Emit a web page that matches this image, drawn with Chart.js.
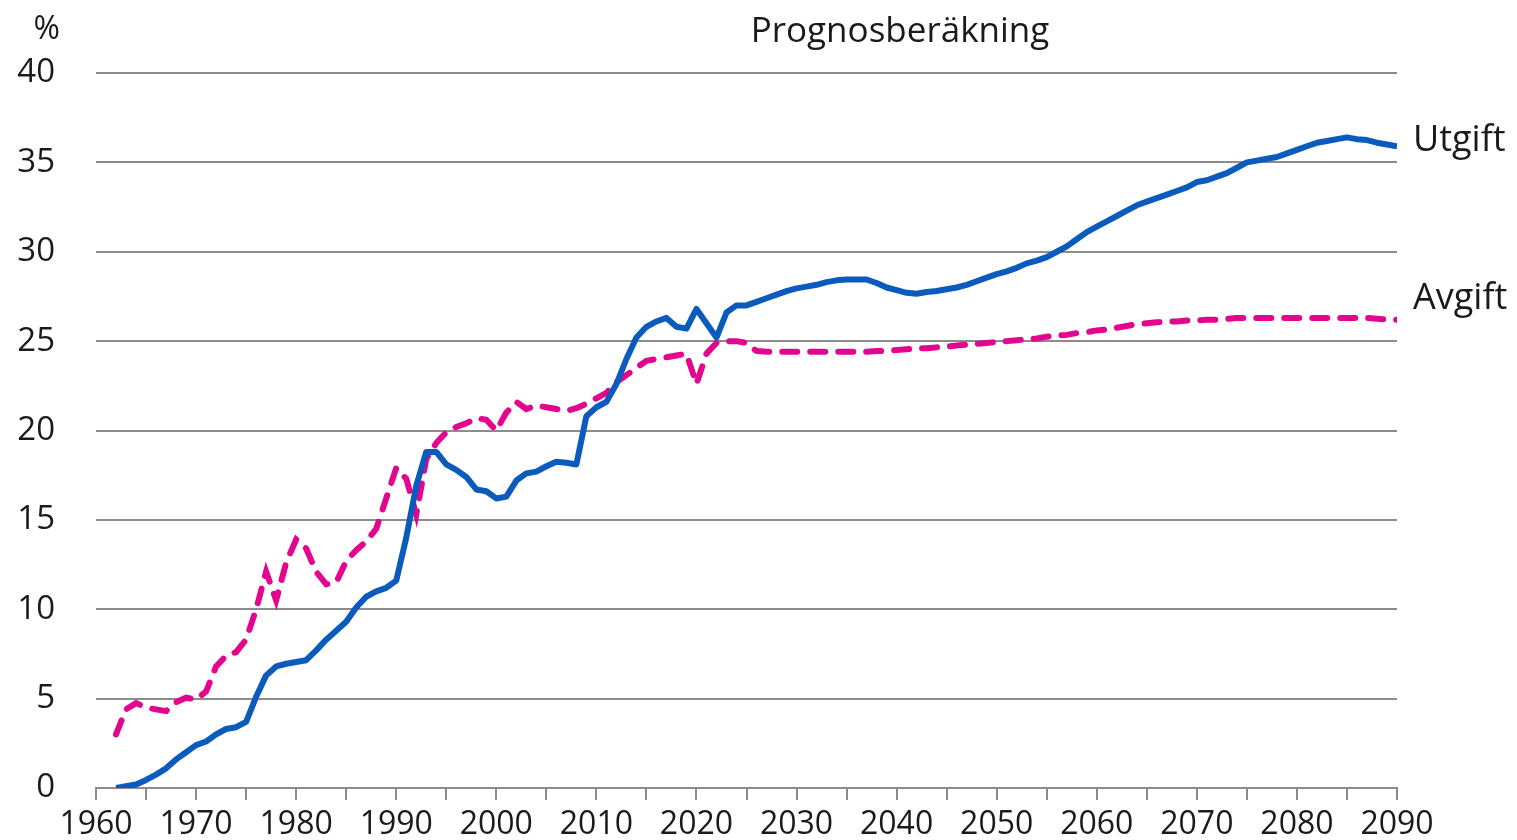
<!DOCTYPE html>
<html>
<head>
<meta charset="utf-8">
<script src="https://cdn.jsdelivr.net/npm/chart.js@4/dist/chart.umd.min.js"></script>
<style>
    html, body { margin: 0; padding: 0; background: #fff; }
    #wrap { width: 1517px; height: 840px; }
</style>
</head>
<body>
<div id="wrap"><canvas id="mainChart" width="1517" height="840"></canvas></div>
<script>
const years = [
    1962, 1963, 1964, 1965, 1966, 1967, 1968, 1969, 1970, 1971,
    1972, 1973, 1974, 1975, 1976, 1977, 1978, 1979, 1980, 1981,
    1982, 1983, 1984, 1985, 1986, 1987, 1988, 1989, 1990, 1991,
    1992, 1993, 1994, 1995, 1996, 1997, 1998, 1999, 2000, 2001,
    2002, 2003, 2004, 2005, 2006, 2007, 2008, 2009, 2010, 2011,
    2012, 2013, 2014, 2015, 2016, 2017, 2018, 2019, 2020, 2021,
    2022, 2023, 2024, 2025, 2026, 2027, 2028, 2029, 2030, 2031,
    2032, 2033, 2034, 2035, 2036, 2037, 2038, 2039, 2040, 2041,
    2042, 2043, 2044, 2045, 2046, 2047, 2048, 2049, 2050, 2051,
    2052, 2053, 2054, 2055, 2056, 2057, 2058, 2059, 2060, 2061,
    2062, 2063, 2064, 2065, 2066, 2067, 2068, 2069, 2070, 2071,
    2072, 2073, 2074, 2075, 2076, 2077, 2078, 2079, 2080, 2081,
    2082, 2083, 2084, 2085, 2086, 2087, 2088, 2089, 2090,
];

// Utgift (expenditure), %
const utgift = [
    0.0, 0.1, 0.2, 0.45, 0.75, 1.1, 1.6, 2.0, 2.4, 2.6,
    3.0, 3.3, 3.4, 3.7, 5.1, 6.3, 6.8, 6.95, 7.05, 7.15,
    7.7, 8.3, 8.8, 9.3, 10.1, 10.7, 11.0, 11.2, 11.6, 14.0,
    16.9, 18.8, 18.8, 18.1, 17.8, 17.4, 16.7, 16.6, 16.2, 16.3,
    17.2, 17.6, 17.7, 18.0, 18.25, 18.2, 18.1, 20.8, 21.3, 21.6,
    22.6, 24.0, 25.2, 25.8, 26.1, 26.3, 25.8, 25.7, 26.8, 26.0,
    25.2, 26.6, 27.0, 27.0, 27.2, 27.4, 27.6, 27.8, 27.95, 28.05,
    28.15, 28.3, 28.4, 28.45, 28.45, 28.45, 28.25, 28.0, 27.85, 27.7,
    27.65, 27.75, 27.8, 27.9, 28.0, 28.15, 28.35, 28.55, 28.75, 28.9,
    29.1, 29.35, 29.5, 29.7, 30.0, 30.3, 30.7, 31.1, 31.4, 31.7,
    32.0, 32.3, 32.6, 32.8, 33.0, 33.2, 33.4, 33.6, 33.9, 34.0,
    34.2, 34.4, 34.7, 35.0, 35.1, 35.2, 35.3, 35.5, 35.7, 35.9,
    36.1, 36.2, 36.3, 36.4, 36.3, 36.25, 36.1, 36.0, 35.9,
];

// Avgift (contributions), %
const avgift = [
    3.0, 4.4, 4.75, 4.5, 4.4, 4.3, 4.8, 5.05, 4.95, 5.4,
    6.8, 7.4, 7.6, 8.3, 10.0, 12.1, 10.5, 12.6, 13.9, 13.4,
    12.1, 11.4, 11.5, 12.7, 13.3, 13.8, 14.5, 16.2, 17.9, 17.3,
    15.3, 18.4, 19.3, 19.9, 20.2, 20.4, 20.7, 20.6, 20.0, 21.0,
    21.6, 21.2, 21.4, 21.3, 21.2, 21.1, 21.25, 21.5, 21.8, 22.1,
    22.7, 23.1, 23.5, 23.9, 24.0, 24.1, 24.2, 24.3, 22.6, 24.3,
    24.9, 25.0, 25.0, 24.9, 24.45, 24.4, 24.4, 24.4, 24.4, 24.4,
    24.4, 24.4, 24.4, 24.4, 24.4, 24.4, 24.45, 24.45, 24.5, 24.55,
    24.6, 24.6, 24.65, 24.7, 24.75, 24.8, 24.85, 24.9, 24.95, 25.0,
    25.05, 25.1, 25.15, 25.25, 25.3, 25.35, 25.45, 25.5, 25.6, 25.65,
    25.75, 25.85, 25.95, 26.0, 26.05, 26.1, 26.1, 26.15, 26.15, 26.2,
    26.2, 26.25, 26.3, 26.3, 26.3, 26.3, 26.3, 26.3, 26.3, 26.3,
    26.3, 26.3, 26.3, 26.3, 26.3, 26.3, 26.25, 26.2, 26.2,
];

const xTickLabels = ["1960", "1970", "1980", "1990", "2000", "2010", "2020", "2030", "2040", "2050", "2060", "2070", "2080", "2090"];
const yTickLabels = ["0", "5", "10", "15", "20", "25", "30", "35", "40"];

const FONT = "'Open Sans', 'Noto Sans', sans-serif";
const TEXT = "#1a1a1a";
const AXIS = "#8c8c8c";

function toPoints(values) {
    return values.map((y, i) => ({ x: years[i], y }));
}

// draws "%", the title and the series names at the line ends
const annotations = {
    id: "annotations",
    afterDraw(chart) {
        const { ctx, scales } = chart;
        ctx.save();
        ctx.fillStyle = TEXT;
        ctx.textBaseline = "middle";

        ctx.font = `32px ${FONT}`;
        ctx.textAlign = "right";
        ctx.fillText("%", 60, 30);

        ctx.font = `35px ${FONT}`;
        ctx.textAlign = "center";
        ctx.fillText("Prognosberäkning", 900, 32);

        ctx.font = `36px ${FONT}`;
        ctx.textAlign = "left";
        const xEnd = scales.x.getPixelForValue(years[years.length - 1]) + 16;
        ctx.fillText("Utgift", xEnd, scales.y.getPixelForValue(utgift[utgift.length - 1]) - 6);
        ctx.fillText("Avgift", xEnd, scales.y.getPixelForValue(avgift[avgift.length - 1]) - 21);
        ctx.restore();
    },
};

new Chart(document.getElementById("mainChart").getContext("2d"), {
    type: "line",
    data: {
        datasets: [
            {
                label: "Utgift",
                data: toPoints(utgift),
                borderColor: "#0a5bbd",
                borderWidth: 6,
                pointRadius: 0,
                tension: 0,
                fill: false,
                borderJoinStyle: "round",
            },
            {
                label: "Avgift",
                data: toPoints(avgift),
                borderColor: "#e3058d",
                borderWidth: 6,
                borderDash: [15, 13],
                borderCapStyle: "round",
                pointRadius: 0,
                tension: 0,
                fill: false,
            },
        ],
    },
    options: {
        responsive: false,
        animation: false,
        devicePixelRatio: 1,
        layout: { padding: { top: 73, right: 120, left: 0, bottom: 0 } },
        plugins: {
            legend: { display: false },
            tooltip: { enabled: false },
        },
        scales: {
            x: {
                type: "linear",
                min: 1960,
                max: 2090,
                afterFit: (scale) => { scale.height = 52; },
                border: { display: true, color: AXIS, width: 2 },
                grid: { drawOnChartArea: false, drawTicks: true, tickLength: 12, color: AXIS, lineWidth: 2 },
                ticks: {
                    stepSize: 5,
                    autoSkip: false,
                    maxRotation: 0,
                    padding: 6,
                    color: TEXT,
                    font: { family: FONT, size: 32 },
                    callback: (value) => xTickLabels.find((label) => Number(label) === value) ?? "",
                },
            },
            y: {
                min: 0,
                max: 40,
                afterFit: (scale) => {
                    scale.width = 96;
                    scale.paddingTop = 0;
                    scale.paddingBottom = 0;
                },
                border: { display: false },
                grid: { drawTicks: false, color: AXIS, lineWidth: 2 },
                ticks: {
                    stepSize: 5,
                    padding: 41,
                    color: TEXT,
                    font: { family: FONT, size: 33 },
                    callback: (value) => yTickLabels.find((label) => Number(label) === value) ?? "",
                },
            },
        },
    },
    plugins: [annotations],
});
</script>
</body>
</html>
